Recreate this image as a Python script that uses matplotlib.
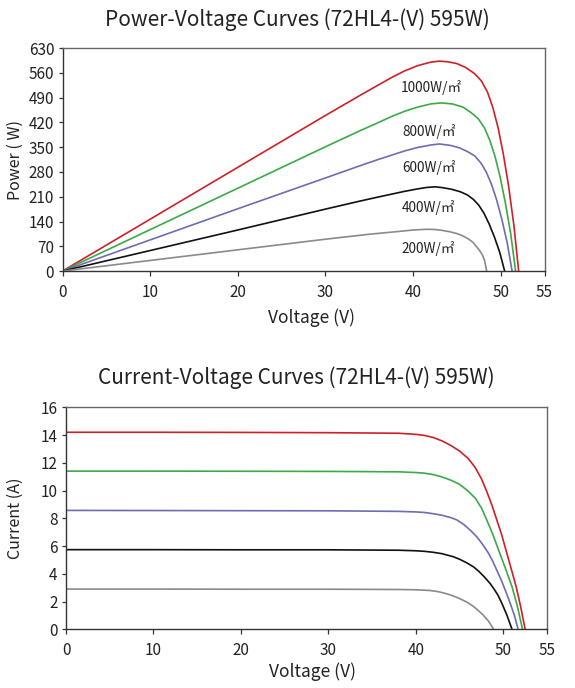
import matplotlib
matplotlib.use("Agg")
import matplotlib.pyplot as plt

plt.rcParams['font.family'] = ['Noto Sans CJK SC', 'DejaVu Sans']

# ---------------- data ----------------
irradiance_labels = ["1000W/㎡", "800W/㎡", "600W/㎡", "400W/㎡", "200W/㎡"]
colors = ["#d02027", "#3aaa49", "#6e6cb2", "#111111", "#8a8a8a"]

# Power-voltage curves
pv_v_1000 = [0, 10, 20, 30, 34, 36, 37.5, 39, 40.5, 42, 43, 44, 45, 46, 47, 47.8, 48.5, 49.1, 49.7, 50.3, 50.9, 51.5, 52.05]
pv_p_1000 = [0, 146.5, 293, 439.5, 497, 525, 546, 565, 580, 590, 593, 591, 586, 575, 558, 537, 505, 462, 405, 330, 240, 130, 0]
pv_v_800 = [0, 10, 20, 30, 34, 36, 37.5, 39, 40.5, 42, 43.2, 44.5, 45.7, 46.65, 47.45, 48.15, 48.75, 49.35, 49.95, 50.55, 51.15, 51.7]
pv_p_800 = [0, 117, 234, 351, 397, 419, 436, 451, 463, 472, 475, 472, 463, 447, 430, 404, 370, 324, 264, 190, 104, 0]
pv_v_600 = [0, 10, 20, 30, 34, 36, 37.5, 39, 40.5, 42, 43, 44.25, 45.3, 46.25, 47.05, 47.75, 48.35, 48.95, 49.55, 50.15, 50.75, 51.3]
pv_p_600 = [0, 88, 176, 263, 298, 315, 327, 339, 349, 356, 359, 355, 348, 337, 325, 305, 280, 245, 200, 144, 79, 0]
pv_v_400 = [0, 10, 20, 30, 34, 36, 37.5, 39, 40.5, 41.5, 42.5, 43.4, 44.4, 45.4, 46.2, 46.9, 47.5, 48.1, 48.7, 49.3, 49.9, 50.45]
pv_p_400 = [0, 58, 116, 175, 198, 209, 217, 225, 232, 236, 238, 235.5, 231, 224, 215, 202, 186, 163, 132, 95, 52, 0]
pv_v_200 = [0, 10, 20, 30, 35, 38, 40, 41.5, 42.5, 43.3, 44.2, 45, 45.7, 46.3, 46.8, 47.2, 47.6, 47.9, 48.15, 48.4]
pv_p_200 = [0, 30, 60, 90, 104, 111, 116, 118, 117.5, 115, 111, 106, 99, 91, 82, 70, 58, 46, 31, 0]

# Current-voltage curves
iv_v_1000 = [0, 10, 20, 30, 38, 40, 41, 42, 43, 44, 45, 46, 46.8, 47.5, 48.1, 48.7, 49.25, 49.8, 50.4, 51.0, 51.5, 52.0, 52.5]
iv_i_1000 = [14.2, 14.2, 14.19, 14.17, 14.13, 14.05, 13.97, 13.82, 13.58, 13.25, 12.85, 12.3, 11.65, 10.85, 9.95, 8.95, 7.9, 6.85, 5.5, 4.15, 3.0, 1.6, 0]
iv_v_800 = [0, 10, 20, 30, 38, 40, 41, 42, 43, 44, 45, 46, 46.8, 47.5, 48.1, 48.8, 49.6, 50.3, 51.0, 51.6, 52.2]
iv_i_800 = [11.4, 11.4, 11.39, 11.38, 11.35, 11.3, 11.25, 11.15, 10.98, 10.75, 10.45, 9.95, 9.45, 8.75, 7.9, 6.85, 5.48, 4.3, 3.07, 1.7, 0]
iv_v_600 = [0, 10, 20, 30, 38, 40, 41, 42, 43, 44, 44.7, 45.5, 46.3, 47.0, 47.6, 48.3, 48.8, 49.25, 49.8, 50.3, 50.8, 51.3, 51.7]
iv_i_600 = [8.57, 8.56, 8.55, 8.54, 8.5, 8.46, 8.42, 8.33, 8.22, 8.05, 7.88, 7.55, 7.1, 6.65, 6.15, 5.5, 4.9, 4.27, 3.5, 2.7, 1.87, 0.95, 0]
iv_v_400 = [0, 10, 20, 30, 38, 40, 41, 42, 43, 44.3, 45.0, 45.8, 46.6, 47.2, 47.8, 48.5, 49.0, 49.4, 49.8, 50.4, 51.0]
iv_i_400 = [5.74, 5.74, 5.73, 5.73, 5.7, 5.66, 5.62, 5.55, 5.45, 5.23, 5.05, 4.8, 4.5, 4.18, 3.8, 3.3, 2.85, 2.45, 1.93, 1.05, 0]
iv_v_200 = [0, 10, 20, 30, 38, 40, 41.6, 42.5, 43.3, 44.0, 44.7, 45.4, 46.0, 46.6, 47.1, 47.7, 48.3, 48.9]
iv_i_200 = [2.9, 2.9, 2.89, 2.89, 2.87, 2.85, 2.8, 2.72, 2.6, 2.47, 2.3, 2.1, 1.9, 1.64, 1.38, 1.03, 0.6, 0]

label_v = [42.1, 41.8, 41.8, 41.8, 41.7]
label_p = [517, 394, 291, 179, 63]

x_ticks = [0, 10, 20, 30, 40, 50, 55]
p_ticks = [0, 70, 140, 210, 280, 350, 420, 490, 560, 630]
i_ticks = [0, 2, 4, 6, 8, 10, 12, 14, 16]

top_title = "Power-Voltage Curves (72HL4-(V) 595W)"
bottom_title = "Current-Voltage Curves (72HL4-(V) 595W)"

pv_v = [pv_v_1000, pv_v_800, pv_v_600, pv_v_400, pv_v_200]
pv_p = [pv_p_1000, pv_p_800, pv_p_600, pv_p_400, pv_p_200]
iv_v = [iv_v_1000, iv_v_800, iv_v_600, iv_v_400, iv_v_200]
iv_i = [iv_i_1000, iv_i_800, iv_i_600, iv_i_400, iv_i_200]

# ---------------- figure ----------------
fig = plt.figure(figsize=(5.75, 6.88), dpi=100)
ax1 = fig.add_axes([0.1087, 0.606, 0.8383, 0.3242])
ax2 = fig.add_axes([0.1148, 0.0853, 0.8365, 0.3227])

def style(ax):
    for s in ["left", "bottom"]:
        ax.spines[s].set_color("#333333")
        ax.spines[s].set_linewidth(1.0)
    for s in ["top", "right"]:
        ax.spines[s].set_color("#666666")
        ax.spines[s].set_linewidth(1.0)
    ax.tick_params(direction="out", width=0.9, color="#333333",
                   labelsize=11, labelcolor="#222222")
    ax.tick_params(axis="x", length=3.5, pad=5.5)
    ax.tick_params(axis="y", length=3, pad=3)
    ax.set_xlim(0, 55)
    ax.set_xticks(x_ticks)

for v, p, c in zip(pv_v, pv_p, colors):
    ax1.plot(v, p, color=c, lw=1.2, solid_joinstyle="round")
for lab, lv, lp in zip(irradiance_labels, label_v, label_p):
    ax1.text(lv, lp, lab, fontsize=9.8, ha="center", va="center", color="#222222")
style(ax1)
ax1.set_ylim(0, 630)
ax1.set_yticks(p_ticks)
ax1.set_xlabel("Voltage (V)", fontsize=12.5, color="#222222", va="center")
ax1.xaxis.set_label_coords(0.5176, -0.2085)
ax1.set_ylabel("Power ( W)", fontsize=11.5, color="#222222", va="center")
ax1.yaxis.set_label_coords(-0.0985, 0.5)

for v, i, c in zip(iv_v, iv_i, colors):
    ax2.plot(v, i, color=c, lw=1.2, solid_joinstyle="round")
style(ax2)
ax2.set_ylim(0, 16)
ax2.set_yticks(i_ticks)
ax2.set_xlabel("Voltage (V)", fontsize=12.5, color="#222222", va="center")
ax2.xaxis.set_label_coords(0.5125, -0.192)
ax2.set_ylabel("Current (A)", fontsize=11.5, color="#222222", va="center")
ax2.yaxis.set_label_coords(-0.106, 0.5)

fig.text(297 / 575, 1 - 20 / 688, top_title, fontsize=15, ha="center", va="center", color="#222222")
fig.text(296 / 575, 1 - 378 / 688, bottom_title, fontsize=15, ha="center", va="center", color="#222222")

fig.savefig("out.png", dpi=100)
